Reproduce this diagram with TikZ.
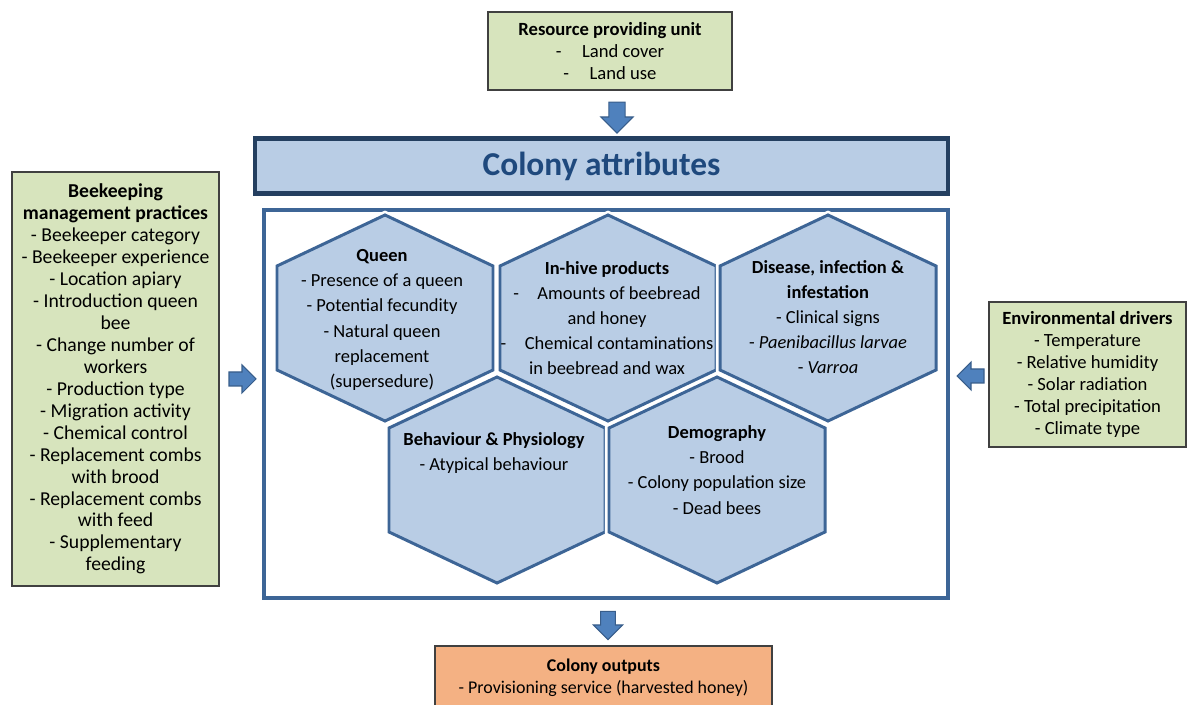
\documentclass[tikz,border=0pt]{standalone}
\usepackage{fontspec}
\setmainfont{Carlito}
\usetikzlibrary{calc}

\definecolor{boxgreen}{HTML}{D7E4BD}
\definecolor{boxline}{HTML}{404040}
\definecolor{boxorange}{HTML}{F4B183}
\definecolor{hexfill}{HTML}{B9CDE5}
\definecolor{hexline}{HTML}{3D6596}
\definecolor{bannerline}{HTML}{243F60}
\definecolor{titleblue}{HTML}{1F497D}
\definecolor{arrowfill}{HTML}{4F81BD}
\definecolor{arrowline}{HTML}{385D8A}

\tikzset{
  infobox/.style={draw=boxline, line width=0.8pt, align=center, inner sep=0pt,
    font=\fontsize{10.6}{12.6}\selectfont},
  hexcell/.style={fill=hexfill, draw=hexline, line width=1.7pt, line join=miter,
    preaction={draw=white, line width=4.6pt}},
  hextext/.style={align=center, font=\fontsize{10.5}{14.3}\selectfont},
  fatarrow/.pic={
    \draw[fill=arrowfill, draw=arrowline, line width=0.6pt]
      (-13,-7) -- (0,-7) -- (0,-14) -- (14,0) -- (0,14) -- (0,7) -- (-13,7) -- cycle;
  }
}

% one honeycomb cell, centre (#1,#2)
\newcommand{\hexcellat}[2]{%
  \draw[hexcell] (#1,#2-103) -- (#1+108,#2-52) -- (#1+108,#2+52) -- (#1,#2+103)
    -- (#1-108,#2+52) -- (#1-108,#2-52) -- cycle;}

\begin{document}
\begin{tikzpicture}[x=0.02cm, y=-0.02cm]
    \useasboundingbox (0,0) rectangle (1187,705);

    % outer boxes
    \node[infobox, fill=boxgreen, minimum width=4.88cm, minimum height=1.56cm] (rpu) at (610,51)
        {\textbf{Resource providing unit}\\-\hspace{1.1em}Land cover\\-\hspace{1.1em}Land use};
    \node[infobox, fill=boxgreen, minimum width=4.14cm, minimum height=8.28cm,
          font=\fontsize{11.2}{12.5}\selectfont] (mgmt) at (115.5,379)
        {\textbf{Beekeeping}\\\textbf{management practices}\\- Beekeeper category\\- Beekeeper experience\\
         - Location apiary\\- Introduction queen\\bee\\- Change number of\\workers\\- Production type\\
         - Migration activity\\- Chemical control\\- Replacement combs\\with brood\\- Replacement combs\\
         with feed\\- Supplementary\\feeding};
    \node[infobox, fill=boxgreen, minimum width=3.94cm, minimum height=2.9cm] (env) at (1087.5,374.5)
        {\textbf{Environmental drivers}\\- Temperature\\- Relative humidity\\- Solar radiation\\
         - Total precipitation\\- Climate type};
    \node[infobox, fill=boxorange, minimum width=6.74cm, minimum height=1.28cm,
          font=\fontsize{10.2}{12.8}\selectfont] (out) at (603.5,678)
        {\textbf{Colony outputs}\\- Provisioning service (harvested honey)};

    % colony attributes
    \node[draw=bannerline, fill=hexfill, line width=2.3pt, inner sep=0pt,
          minimum width=13.86cm, minimum height=1.1cm, text=titleblue,
          font=\fontsize{19}{21}\selectfont\bfseries] (attr) at (601.5,166) {Colony attributes};
    \node[draw=hexline, fill=white, line width=2pt, inner sep=0pt,
          minimum width=13.68cm, minimum height=7.76cm] (frame) at (606,404) {};

    \hexcellat{385}{318}
    \hexcellat{608}{318}
    \hexcellat{828}{318}
    \hexcellat{497}{480}
    \hexcellat{717}{480}

    \node[hextext] (queen) at (382,320)
        {\textbf{Queen}\\- Presence of a queen\\- Potential fecundity\\- Natural queen\\replacement\\(supersedure)};
    \node[hextext] (inhive) at (607,318)
        {\textbf{In-hive products}\\-\hspace{1em}Amounts of beebread\\and honey\\
         -\hspace{1em}Chemical contaminations\\in beebread and wax};
    \node[hextext] (disease) at (828,317)
        {\textbf{Disease, infection \&}\\\textbf{infestation}\\- Clinical signs\\
         - \textit{Paenibacillus larvae}\\- \textit{Varroa}};
    \node[hextext] (behaviour) at (494,453)
        {\textbf{Behaviour \& Physiology}\\- Atypical behaviour};
    \node[hextext] (demography) at (717,470)
        {\textbf{Demography}\\- Brood\\- Colony population size\\- Dead bees};

    % block arrows
    \pic[rotate=-90, scale=1.15] at (617,117) {fatarrow};
    \pic at (242,379) {fatarrow};
    \pic[rotate=180] at (971,376) {fatarrow};
    \pic[rotate=-90, scale=1.05] at (608,625) {fatarrow};
\end{tikzpicture}
\end{document}
